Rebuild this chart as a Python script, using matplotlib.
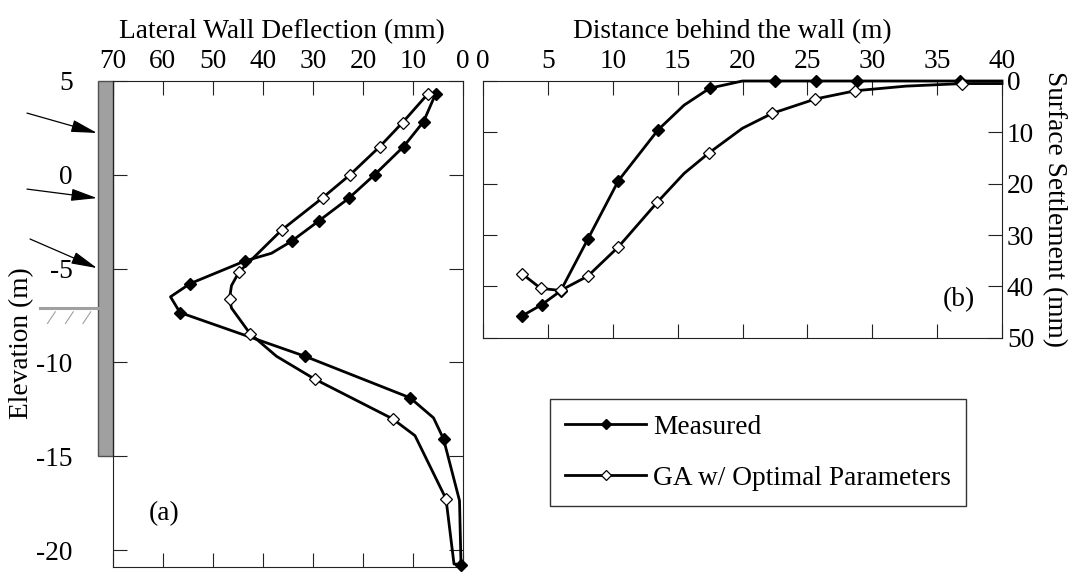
import matplotlib
matplotlib.use("Agg")
import matplotlib.pyplot as plt
from matplotlib.patches import Rectangle
from matplotlib.lines import Line2D

plt.rcParams['font.family'] = ['Liberation Serif', 'DejaVu Serif']
plt.rcParams['axes.unicode_minus'] = False
FS = 19.7

# ---------------- data: panel (a) lateral wall deflection ----------------
meas_defl = [5.5, 7.9, 11.9, 17.7, 22.9, 28.8, 34.3, 38.3, 43.6, 54.6, 58.5, 56.6,
             31.6, 10.6, 5.9, 3.9, 0.7, 0.4]
meas_elev = [4.3, 2.83, 1.5, 0.0, -1.26, -2.45, -3.54, -4.18, -4.59, -5.8, -6.5, -7.34,
             -9.67, -11.88, -12.95, -14.07, -17.36, -20.77]
meas_mark = [0, 1, 2, 3, 4, 5, 6, 8, 9, 11, 12, 13, 15, 17]

ga_defl = [7.1, 12.1, 16.7, 22.6, 28.1, 36.3, 44.8, 46.3, 46.7, 46.3, 42.6, 37.3,
           29.7, 14.1, 9.6, 3.4, 1.8, 0.4]
ga_elev = [4.29, 2.78, 1.49, 0.0, -1.23, -2.95, -5.18, -5.9, -6.6, -7.1, -8.46, -9.67,
           -10.88, -13.0, -13.9, -17.27, -20.74, -20.77]
ga_mark = [0, 1, 2, 3, 4, 5, 6, 8, 10, 12, 13, 15]

defl_ticks = [70, 60, 50, 40, 30, 20, 10, 0]
elev_ticks = [5, 0, -5, -10, -15, -20]

# ---------------- data: panel (b) surface settlement ----------------
meas_dist = [2.98, 4.51, 5.98, 8.08, 10.44, 13.5, 15.5, 17.48, 20.0, 22.5, 25.7, 28.8, 36.8, 40.0]
meas_sett = [45.8, 43.6, 40.9, 30.8, 19.4, 9.5, 4.7, 1.4, 0.0, 0.0, 0.0, 0.0, 0.0, 0.0]
meas_mark_b = [0, 1, 2, 3, 4, 5, 7, 9, 10, 11, 12]

ga_dist = [3.04, 4.45, 5.98, 8.08, 10.44, 13.44, 15.5, 17.42, 20.0, 22.29, 25.62, 28.7,
           32.6, 36.94, 40.0]
ga_sett = [37.6, 40.4, 40.8, 38.0, 32.3, 23.6, 18.0, 14.0, 9.2, 6.3, 3.5, 1.9, 1.0, 0.5, 0.5]
ga_mark_b = [0, 1, 2, 3, 4, 5, 7, 9, 10, 11, 13]

dist_ticks = [0, 5, 10, 15, 20, 25, 30, 35, 40]
sett_ticks = [0, 10, 20, 30, 40, 50]

labels = ["Measured", "GA w/ Optimal Parameters"]

W, H = 1070, 573
fig = plt.figure(figsize=(W / 100, H / 100), dpi=100)

def fx(px):
    return px / W

def fy(py):
    return 1 - py / H

axA = fig.add_axes([fx(113), fy(567), fx(463) - fx(113), fy(81) - fy(567)])
axB = fig.add_axes([fx(483), fy(337.7), fx(1002) - fx(483), fy(81) - fy(337.7)])

LW = 2.0
MS = 6.3
for ax in (axA, axB):
    for s in ax.spines.values():
        s.set_linewidth(0.8)
        s.set_color('#222222')
    ax.tick_params(which='both', direction='in', length=10, width=0.8, color='#222222',
                   top=True, bottom=True, left=True, right=True, labelsize=FS)

# ---- panel (a)
axA.set_xlim(70, 0)
axA.set_ylim(-20.9, 5)
axA.set_xticks(defl_ticks)
axA.set_yticks(elev_ticks)
axA.tick_params(axis='x', labeltop=True, labelbottom=False, pad=5)
axA.tick_params(axis='y', labelleft=True, labelright=False, pad=29)

lm, = axA.plot(meas_defl, meas_elev, color='black', lw=LW, marker='D', ms=MS,
               mfc='black', mec='black', markevery=meas_mark, zorder=4, clip_on=False)
lg, = axA.plot(ga_defl, ga_elev, color='black', lw=LW, marker='D', ms=MS,
               mfc='white', mec='black', mew=0.9, markevery=ga_mark, zorder=5, clip_on=False)

axA.set_xlabel("Lateral Wall Deflection (mm)", fontsize=FS, ha='center', va='bottom')
axA.xaxis.set_label_position('top')
axA.xaxis.set_label_coords(0.482, 1.088)
axA.set_ylabel("Elevation (m)", fontsize=FS, ha='center', va='bottom')
axA.yaxis.set_label_coords(-0.226, 0.461)

axA.text(59.8, -18.05, "(a)", fontsize=FS, ha='center', va='center')

# wall
axA.add_patch(Rectangle((70, -15), 2.94, 20, facecolor='#a0a0a0', edgecolor='#505050',
                        lw=1.0, clip_on=False, zorder=2))
# ground surface line and hatching
axA.plot([84.6, 72.94], [-7.12, -7.12], color='#a0a0a0', lw=2.2, clip_on=False)
for x0 in (83.1, 79.5, 76.0):
    axA.plot([x0, x0 - 1.55], [-7.92, -7.30], color='#a0a0a0', lw=0.8, clip_on=False)
# arrows (struts)
for (xt, yt), (xh, yh) in [((87.2, 3.29), (73.2, 2.23)),
                           ((87.2, -0.76), (73.2, -1.24)),
                           ((86.6, -3.42), (73.2, -4.97))]:
    axA.annotate("", xy=(xh, yh), xytext=(xt, yt), annotation_clip=False,
                 arrowprops=dict(arrowstyle='-|>,head_length=1.6,head_width=0.38',
                                 color='black', lw=0.9, shrinkA=0, shrinkB=0))

# ---- panel (b)
axB.set_xlim(0, 40)
axB.set_ylim(50, 0)
axB.set_xticks(dist_ticks)
axB.set_yticks(sett_ticks)
axB.tick_params(axis='x', labeltop=True, labelbottom=False, pad=5)
axB.tick_params(axis='y', labelleft=False, labelright=True, pad=3.5)

axB.plot(meas_dist, meas_sett, color='black', lw=LW, marker='D', ms=MS,
         mfc='black', mec='black', markevery=meas_mark_b, zorder=4, clip_on=False)
axB.plot(ga_dist, ga_sett, color='black', lw=LW, marker='D', ms=MS,
         mfc='white', mec='black', mew=0.9, markevery=ga_mark_b, zorder=5, clip_on=False)

axB.set_xlabel("Distance behind the wall (m)", fontsize=FS, ha='center', va='bottom')
axB.xaxis.set_label_position('top')
axB.xaxis.set_label_coords(0.48, 1.1675)
axB.yaxis.set_label_position('right')
axB.set_ylabel("Surface Settlement (mm)", fontsize=FS, rotation=270,
               rotation_mode='anchor', ha='center', va='bottom')
axB.yaxis.set_label_coords(1.077, 0.5)

axB.text(36.7, 42.6, "(b)", fontsize=FS, ha='center', va='center')

# legend
hm = Line2D([], [], color='black', lw=LW, marker='D', ms=5, mfc='black', mec='black')
hg = Line2D([], [], color='black', lw=LW, marker='D', ms=5, mfc='white', mec='black', mew=0.9)
leg = fig.legend([hm, hg], labels, loc='upper left',
                 bbox_to_anchor=(fx(550), fy(399.3)), bbox_transform=fig.transFigure,
                 frameon=True, fancybox=False, edgecolor='#333333', framealpha=1,
                 fontsize=FS, borderpad=0.55, borderaxespad=0, handlelength=2.96,
                 handletextpad=0.27, labelspacing=0.95)
leg.get_frame().set_linewidth(1.0)

fig.savefig("out.png", dpi=100)
